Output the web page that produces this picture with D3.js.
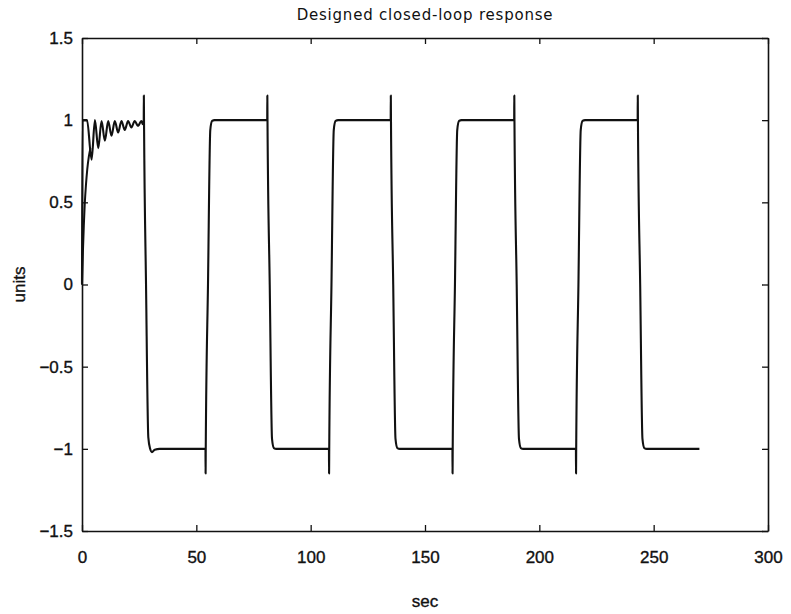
<!DOCTYPE html>
<html>
<head>
<meta charset="utf-8">
<script src="https://cdn.jsdelivr.net/npm/d3@7"></script>
<style>
  html, body { margin: 0; padding: 0; background: #fff; }
  svg { display: block; }
  .tick-label { font-family: "Liberation Sans", Arial, sans-serif; font-size: 17px; fill: #111; stroke: #111; stroke-width: 0.35px; }
</style>
</head>
<body>
<svg id="chart" width="791" height="614"></svg>
<script>
// Closed-loop output (units) against time (sec): start-up transient, then square-wave tracking
const responseTime = [
  0, 0.25, 2.2, 4.2, 5.65, 7.1, 8.55, 10.0, 11.45, 12.9, 14.35, 15.8, 17.25, 18.7, 20.15, 21.6, 23.05, 24.5, 25.95, 26.6,
  27.0, 27.05, 27.12, 28.0, 29.0, 29.8, 30.6, 31.8, 34.0,
  54.0, 54.05, 54.12, 55.1, 56.1, 56.9, 58.0,
  81.0, 81.05, 81.12, 82.1, 83.1, 83.9, 85.0,
  108.0, 108.05, 108.12, 109.1, 110.1, 110.9, 112.0,
  135.0, 135.05, 135.12, 136.1, 137.1, 137.9, 139.0,
  162.0, 162.05, 162.12, 163.1, 164.1, 164.9, 166.0,
  189.0, 189.05, 189.12, 190.1, 191.1, 191.9, 193.0,
  216.0, 216.05, 216.12, 217.1, 218.1, 218.9, 220.0,
  243.0, 243.05, 243.12, 244.1, 245.1, 245.9, 247.0,
  270.0
];
const responseUnits = [
  0, 1.0, 1.0, 0.76, 1.0, 0.83, 0.995, 0.875, 0.995, 0.905, 0.995, 0.925, 0.995, 0.94, 0.995, 0.955, 0.995, 0.965, 0.995, 0.975,
  1.0, 1.15, 1.0, 0.0, -0.93, -1.0, -1.02, -1.005, -1.0,
  -1.0, -1.15, -1.0, 0.0, 0.94, 0.995, 1.0,
  1.0, 1.15, 1.0, 0.0, -0.94, -0.995, -1.0,
  -1.0, -1.15, -1.0, 0.0, 0.94, 0.995, 1.0,
  1.0, 1.15, 1.0, 0.0, -0.94, -0.995, -1.0,
  -1.0, -1.15, -1.0, 0.0, 0.94, 0.995, 1.0,
  1.0, 1.15, 1.0, 0.0, -0.94, -0.995, -1.0,
  -1.0, -1.15, -1.0, 0.0, 0.94, 0.995, 1.0,
  1.0, 1.15, 1.0, 0.0, -0.94, -0.995, -1.0,
  -1.0
];

// Smooth initial rise of the designed model
const modelTime  = [0, 0.4, 0.8, 1.2, 1.7, 2.3, 3.0, 3.7];
const modelUnits = [0, 0.20, 0.36, 0.49, 0.60, 0.70, 0.78, 0.83];

const secTicks  = [0, 50, 100, 150, 200, 250, 300];
const unitTicks = [-1.5, -1, -0.5, 0, 0.5, 1, 1.5];

const titleText = "Designed closed-loop response";
const xLabel = "sec";
const yLabel = "units";

const svg = d3.select("#chart");
const plotLeft = 82, plotRight = 768, plotTop = 38, plotBottom = 531;

const x = d3.scaleLinear().domain([0, 300]).range([plotLeft, plotRight]);
const y = d3.scaleLinear().domain([-1.5, 1.5]).range([plotBottom, plotTop]);

const fmt = v => (v < 0 ? "\u2212" : "") + Math.abs(v);

// Frame with inward ticks on all four sides
const tickLen = 6;
const axisBottom = d3.axisBottom(x).tickValues(secTicks).tickSizeInner(-tickLen).tickSizeOuter(0).tickFormat(fmt).tickPadding(20);
const axisTop = d3.axisTop(x).tickValues(secTicks).tickSizeInner(-tickLen).tickSizeOuter(0).tickFormat("");
const axisLeft = d3.axisLeft(y).tickValues(unitTicks).tickSizeInner(-tickLen).tickSizeOuter(0).tickFormat(fmt).tickPadding(9);
const axisRight = d3.axisRight(y).tickValues(unitTicks).tickSizeInner(-tickLen).tickSizeOuter(0).tickFormat("");

function styleAxis(g) {
  g.select(".domain").attr("stroke", "#111").attr("stroke-width", 1.6);
  g.selectAll(".tick line").attr("stroke", "#111").attr("stroke-width", 1.3);
  g.selectAll(".tick text").attr("class", "tick-label").attr("font-size", null).attr("font-family", null);
}

svg.append("g").attr("transform", `translate(0,${plotBottom})`).call(axisBottom).call(styleAxis);
svg.append("g").attr("transform", `translate(0,${plotTop})`).call(axisTop).call(styleAxis);
svg.append("g").attr("transform", `translate(${plotLeft},0)`).call(axisLeft).call(styleAxis);
svg.append("g").attr("transform", `translate(${plotRight},0)`).call(axisRight).call(styleAxis);

// Curves
const line = d3.line()
  .x(d => x(d[0]))
  .y(d => y(d[1]))
  .curve(d3.curveMonotoneX);

const responsePts = responseTime.map((t, i) => [t, responseUnits[i]]);
const modelPts = modelTime.map((t, i) => [t, modelUnits[i]]);

svg.append("path").datum(modelPts)
  .attr("d", line).attr("fill", "none")
  .attr("stroke", "#111").attr("stroke-width", 2).attr("stroke-linejoin", "round");

svg.append("path").datum(responsePts)
  .attr("d", line).attr("fill", "none")
  .attr("stroke", "#111").attr("stroke-width", 2.1).attr("stroke-linejoin", "round");

// Title and axis labels
const title = svg.append("text")
  .attr("x", (plotLeft + plotRight) / 2).attr("y", 20)
  .attr("text-anchor", "middle")
  .attr("font-family", "DejaVu Sans, sans-serif")
  .attr("font-size", 15)
  .attr("fill", "#111")
  .text(titleText);
const natural = title.node().getComputedTextLength();
const spacing = (256 - natural) / (titleText.length - 1);
title.attr("letter-spacing", spacing.toFixed(2));

svg.append("text")
  .attr("class", "tick-label")
  .attr("x", (plotLeft + plotRight) / 2).attr("y", 607)
  .attr("text-anchor", "middle")
  .text(xLabel);

svg.append("text")
  .attr("class", "tick-label")
  .attr("transform", `translate(25,${(plotTop + plotBottom) / 2}) rotate(-90)`)
  .attr("text-anchor", "middle")
  .text(yLabel);
</script>
</body>
</html>
